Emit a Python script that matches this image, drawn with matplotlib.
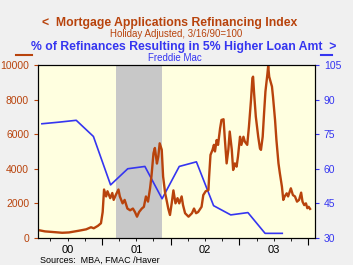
import matplotlib
matplotlib.use("Agg")
import matplotlib.pyplot as plt
import matplotlib.transforms as mtransforms

plt.rcParams['font.family'] = ['Liberation Sans', 'DejaVu Sans']

# weekly refinancing index (MBA), dates as decimal years
refi_t = [2000.08, 2000.17, 2000.33, 2000.42, 2000.52, 2000.665, 2000.77, 2000.84,
          2000.88, 2000.94, 2000.985, 2001.01, 2001.03, 2001.06, 2001.08, 2001.12,
          2001.15, 2001.17, 2001.20, 2001.24, 2001.26, 2001.30, 2001.33, 2001.37,
          2001.41, 2001.45, 2001.48, 2001.51, 2001.54, 2001.58, 2001.61, 2001.64,
          2001.67, 2001.70, 2001.72, 2001.75, 2001.77, 2001.80, 2001.82, 2001.84,
          2001.87, 2001.89, 2001.92, 2001.94, 2001.965, 2001.99, 2002.015, 2002.04,
          2002.07, 2002.10, 2002.125, 2002.16, 2002.18, 2002.21, 2002.26, 2002.31,
          2002.34, 2002.37, 2002.40, 2002.45, 2002.475, 2002.51, 2002.55, 2002.56,
          2002.58, 2002.61, 2002.63, 2002.645, 2002.67, 2002.69, 2002.72, 2002.74,
          2002.77, 2002.79, 2002.815, 2002.84, 2002.86, 2002.89, 2002.91, 2002.935,
          2002.96, 2002.98, 2003.01, 2003.03, 2003.06, 2003.08, 2003.115, 2003.14,
          2003.17, 2003.19, 2003.20, 2003.215, 2003.24, 2003.275, 2003.30, 2003.315,
          2003.34, 2003.36, 2003.38, 2003.41, 2003.42, 2003.435, 2003.455, 2003.475,
          2003.49, 2003.52, 2003.54, 2003.57, 2003.59, 2003.62, 2003.64, 2003.66,
          2003.69, 2003.71, 2003.75, 2003.78, 2003.81, 2003.84, 2003.87, 2003.90,
          2003.92, 2003.945, 2003.97, 2003.99, 2004.01, 2004.03]
refi = [450, 380, 330, 300, 320, 420, 500, 620,
        560, 700, 850, 1500, 2800, 2400, 2700, 2300,
        2600, 2200, 2480, 2800, 2400, 2000, 2200, 1700,
        1600, 1700, 1500, 1230, 1500, 1700, 1800, 2400,
        2100, 2870, 3550, 4900, 5200, 4300, 4700, 5470,
        5100, 3550, 2580, 2200, 1700, 1330, 2000, 2750,
        2000, 2300, 2000, 2400, 1900, 1430, 1230, 1430,
        1700, 1430, 1500, 1800, 2480, 2700, 2770, 3550,
        4800, 5100, 5380, 5000, 5660, 5380, 6340, 6820,
        6860, 5660, 4310, 5100, 6150, 5100, 3930, 4310,
        4120, 4700, 5850, 5380, 5850, 5570, 5380, 6440,
        7980, 9230, 9320, 8360, 7010, 5850, 5180, 5090,
        5850, 7200, 8460, 9520, 9940, 9320, 9030, 8750,
        8170, 6820, 5660, 4310, 3740, 2970, 2200, 2400,
        2580, 2400, 2870, 2480, 2400, 2100, 2200, 2620,
        2100, 1900, 2000, 1720, 1800, 1680]

# quarterly Freddie Mac cash-out share (%)
cash_t = [2000.125, 2000.375, 2000.625, 2000.875, 2001.125, 2001.375, 2001.625, 2001.875,
          2002.125, 2002.375, 2002.625, 2002.875, 2003.125, 2003.375, 2003.625]
cash = [79.5, 80.2, 81, 74, 53, 60, 61, 47, 61, 63, 44, 40, 41, 32, 32]

years = [2000, 2001, 2002, 2003]
year_labels = ['00', '01', '02', '03']
recession = (2001.2, 2001.88)

orange = '#b8430c'
blue = '#3535f0'

fig = plt.figure(figsize=(3.53, 2.65), dpi=100, facecolor='#f0f0f0')
ax2 = fig.add_axes([0.108, 0.102, 0.784, 0.653])
ax = ax2.twinx()
# put the left-axis series on top of the right one
ax.yaxis.tick_left()
ax.yaxis.set_label_position('left')
ax2.yaxis.tick_right()
ax2.yaxis.set_label_position('right')

ax2.set_facecolor('#ffffe0')
ax2.axvspan(recession[0], recession[1], color='#c8c8c8', lw=0, zorder=0)
ax2.plot(cash_t, cash, color=blue, lw=1.2)
ax.plot(refi_t, refi, color=orange, lw=1.7)

ax.set_xlim(2000.07, 2004.1)
ax.set_ylim(0, 10000)
ax.set_yticks(range(0, 10001, 2000))
ax2.set_ylim(30, 105)
ax2.set_yticks(range(30, 106, 15))

ax2.set_xticks([2001, 2002, 2003, 2004])
ax2.set_xticks([y + q / 4 for y in range(2000, 2004) for q in range(1, 4)], minor=True)
ax2.set_xticklabels([])
ax2.tick_params(axis='x', which='major', length=5, width=0.8, direction='out')
ax2.tick_params(axis='x', which='minor', length=2.5, width=0.6, direction='out')
ax.tick_params(axis='y', colors=orange, labelsize=7.5, length=3, width=0.8)
ax2.tick_params(axis='y', colors=blue, labelsize=7.5, length=3, width=0.8)
for a in (ax, ax2):
    for s in a.spines.values():
        s.set_color('black')
        s.set_linewidth(0.8)

trans = mtransforms.blended_transform_factory(ax2.transData, ax2.transAxes)
for y, lab in zip(years, year_labels):
    ax2.text(y + 0.5, -0.04, lab, transform=trans, ha='center', va='top', fontsize=8)

fig.text(0.113, 0.008, 'Sources:  MBA, FMAC /Haver', fontsize=6.5, ha='left', va='baseline')

fig.text(0.482, 0.913, '<  Mortgage Applications Refinancing Index', color=orange,
         fontsize=8.8, fontweight='bold', ha='center', va='center')
fig.text(0.50, 0.870, 'Holiday Adjusted, 3/16/90=100', color=orange,
         fontsize=7, ha='center', va='center')
fig.text(0.52, 0.822, '% of Refinances Resulting in 5% Higher Loan Amt  >', color=blue,
         fontsize=8.8, fontweight='bold', ha='center', va='center')
fig.text(0.495, 0.782, 'Freddie Mac', color=blue,
         fontsize=7, ha='center', va='center')
fig.add_artist(plt.Line2D([0.045, 0.092], [0.792, 0.792], color=orange, lw=1.5))
fig.add_artist(plt.Line2D([0.91, 0.94], [0.792, 0.792], color=blue, lw=1.5))

fig.savefig('out.png', dpi=100, facecolor=fig.get_facecolor())
